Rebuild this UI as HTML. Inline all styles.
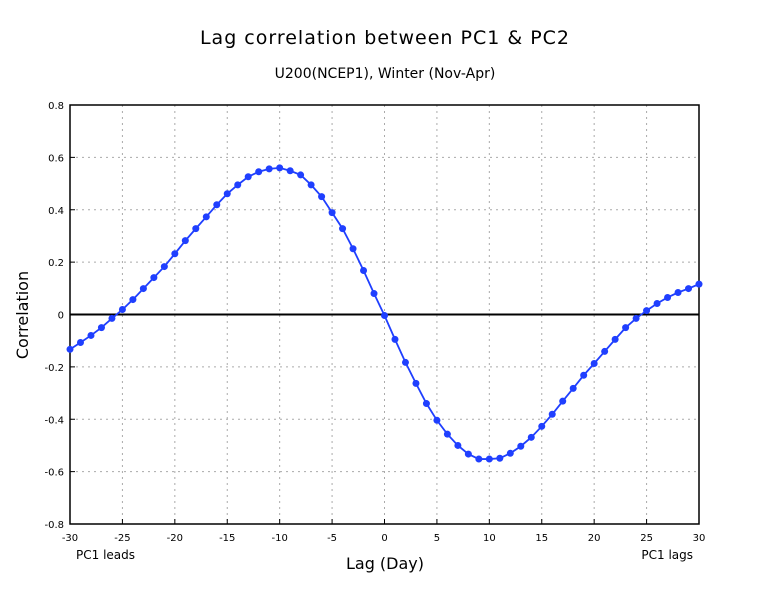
<!DOCTYPE html>
<html><head><meta charset="utf-8"><style>
body{margin:0;background:#fff;}
svg text{font-family:"DejaVu Sans","Liberation Sans",sans-serif;fill:#000;}
</style></head><body>
<svg id="chart" width="770" height="595" xmlns="http://www.w3.org/2000/svg">
<rect width="770" height="595" fill="#fff"/>
<text x="385" y="44" font-size="19" text-anchor="middle" letter-spacing="1">Lag correlation between PC1 &amp; PC2</text>
<text x="385" y="78" font-size="14" text-anchor="middle">U200(NCEP1), Winter (Nov-Apr)</text>
<g id="grid"></g>
<g id="axes"></g>
<g id="series"></g>
<text x="28" y="315" font-size="16" text-anchor="middle" transform="rotate(-90 28 315)">Correlation</text>
<text x="385" y="569" font-size="16" text-anchor="middle">Lag (Day)</text>
<text x="76" y="559" font-size="12">PC1 leads</text>
<text x="693" y="559" font-size="12" text-anchor="end">PC1 lags</text>
</svg>
<script>
const lags = [-30,-29,-28,-27,-26,-25,-24,-23,-22,-21,-20,-19,-18,-17,-16,-15,-14,-13,-12,-11,-10,-9,-8,-7,-6,-5,-4,-3,-2,-1,0,1,2,3,4,5,6,7,8,9,10,11,12,13,14,15,16,17,18,19,20,21,22,23,24,25,26,27,28,29,30];
const corr = [-0.133,-0.107,-0.08,-0.05,-0.015,0.019,0.057,0.099,0.141,0.183,0.232,0.282,0.328,0.373,0.419,0.461,0.495,0.526,0.545,0.556,0.56,0.549,0.533,0.495,0.45,0.389,0.328,0.251,0.168,0.08,-0.004,-0.095,-0.183,-0.263,-0.34,-0.404,-0.457,-0.5,-0.533,-0.552,-0.552,-0.549,-0.53,-0.503,-0.469,-0.427,-0.381,-0.331,-0.282,-0.232,-0.187,-0.141,-0.095,-0.05,-0.015,0.015,0.042,0.065,0.084,0.099,0.116];
const xTicks = [-30,-25,-20,-15,-10,-5,0,5,10,15,20,25,30];
const yTicks = [-0.8,-0.6,-0.4,-0.2,0,0.2,0.4,0.6,0.8];
const yTickLabels = ["-0.8","-0.6","-0.4","-0.2","0","0.2","0.4","0.6","0.8"];
const L=70,R=699,T=105,B=524;
const sx=v=>L+(v+30)/60*(R-L);
const sy=v=>T+(0.8-v)/1.6*(B-T);
const NS="http://www.w3.org/2000/svg";
function mk(tag,attrs,parent){const e=document.createElementNS(NS,tag);for(const k in attrs)e.setAttribute(k,attrs[k]);parent.appendChild(e);return e;}
const grid=document.getElementById('grid'),axes=document.getElementById('axes'),series=document.getElementById('series');
xTicks.forEach(t=>{
  const x=sx(t);
  if(t>-30&&t<30){const g=mk('line',{x1:x,y1:T,x2:x,y2:B,stroke:'#aaa','stroke-dasharray':'2,4'},grid);
  
  }
  const tk=mk('line',{x1:x,y1:B,x2:x,y2:B-5,stroke:'#000'},axes);
  
  
  const lb=mk('text',{x:x,y:B+17,'font-size':10,'text-anchor':'middle'},axes);lb.textContent=t;
  
  
});
yTicks.forEach((t,i)=>{
  const y=sy(t);
  if(i>0&&i<yTicks.length-1&&t!==0){const g=mk('line',{x1:L,y1:y,x2:R,y2:y,stroke:'#aaa','stroke-dasharray':'2,4'},grid);
  
  }
  const tk=mk('line',{x1:L,y1:y,x2:L+5,y2:y,stroke:'#000'},axes);
  
  
  const lb=mk('text',{x:L-6,y:y+4,'font-size':10,'text-anchor':'end'},axes);lb.textContent=yTickLabels[i];
  
  
});
const fr=mk('rect',{x:L,y:T,width:R-L,height:B-T,fill:'none',stroke:'#000','stroke-width':1.5},axes);


const zl=mk('line',{x1:L,y1:sy(0),x2:R,y2:sy(0),stroke:'#000','stroke-width':2},axes);


const pl=mk('polyline',{points:lags.map((d,i)=>sx(d)+','+sy(corr[i])).join(' '),fill:'none',stroke:'#1f3fff','stroke-width':1.8},series);


lags.forEach((d,i)=>{
  const c=mk('circle',{cx:sx(d),cy:sy(corr[i]),r:3.5,fill:'#1f3fff'},series);
  
  
});
</script>
</body></html>
